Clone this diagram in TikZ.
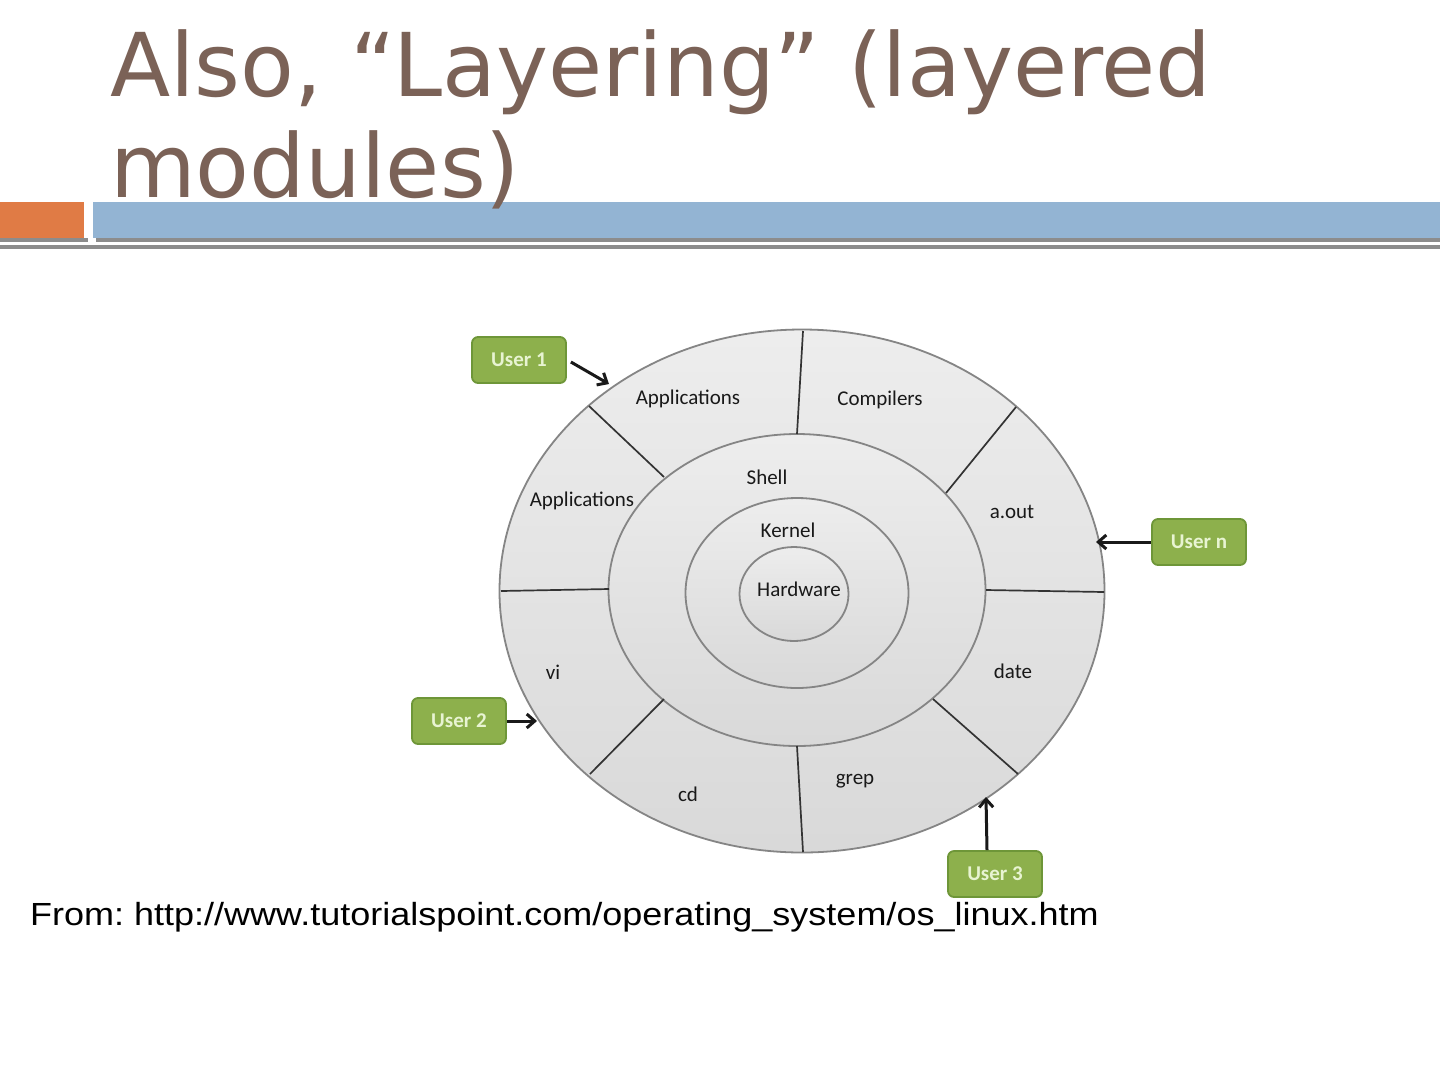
\documentclass[tikz,border=0pt]{standalone}
\usepackage{fontspec}
\setmainfont{Carlito}
\newfontfamily\titlefont{DejaVu Sans}
\newfontfamily\footfont{Liberation Sans}
\usetikzlibrary{shapes.geometric,arrows.meta}
\definecolor{titlebrown}{HTML}{7B6257}
\definecolor{barorange}{HTML}{E07B45}
\definecolor{barblue}{HTML}{93B4D3}
\definecolor{bargray}{HTML}{8C8C8C}
\definecolor{usergreen}{HTML}{8DB04C}
\definecolor{userborder}{HTML}{6E9638}
\definecolor{usertext}{HTML}{E8F4D2}
\definecolor{ringline}{HTML}{858585}
\tikzset{
  ring/.style={ellipse, draw=ringline, line width=1.8pt, top color=gray!14, bottom color=gray!30, inner sep=0pt},
  divider/.style={draw=black!80, line width=1.7pt},
  lbl/.style={font=\fontsize{21}{24}\selectfont, text=black!90, inner sep=0pt},
  userbox/.style={rounded corners=6pt, fill=usergreen, draw=userborder, line width=1.8pt, text=usertext,
    font=\bfseries\fontsize{21}{24}\selectfont, minimum width=94pt, minimum height=46pt, inner sep=0pt},
  userarrow/.style={draw=black!90, line width=3pt, -{Straight Barb[length=8pt,width=14pt,line width=3pt]}},
}
\begin{document}
\begin{tikzpicture}[x=1pt,y=-1pt]
\useasboundingbox (0,0) rectangle (1440,1080);
\fill[white] (0,0) rectangle (1440,1080);
% title bars
\fill[barorange] (0,202) rectangle (84,238);
\fill[barblue] (93,202) rectangle (1440,238);
\fill[bargray] (0,238) rectangle (88,242);
\fill[bargray] (96,238) rectangle (1440,242);
\fill[bargray] (0,244.5) rectangle (1440,248.5);
% title
\node[anchor=base west, inner sep=0pt, text=titlebrown, font=\titlefont\fontsize{88}{100}\selectfont] (title1) at (110,96) {Also, “Layering” (layered};
\node[anchor=base west, inner sep=0pt, text=titlebrown, font=\titlefont\fontsize{88}{100}\selectfont] (title2) at (110,197) {modules)};
% rings
\node[ring, minimum width=605pt, minimum height=523pt] (outer) at (802,591) {};
\node[ring, minimum width=377pt, minimum height=312pt] (shell) at (797,590) {};
\node[ring, minimum width=223pt, minimum height=190pt] (kernel) at (797,593) {};
\node[ring, minimum width=109pt, minimum height=94pt] (hw) at (794,594) {};
% dividers
\draw[divider] (803,331) -- (797,434);
\draw[divider] (1016,407) -- (946,493);
\draw[divider] (986,590) -- (1104,592);
\draw[divider] (933,699) -- (1018,774);
\draw[divider] (797,746) -- (803,852);
\draw[divider] (664,699) -- (590,774);
\draw[divider] (501,591) -- (609,589);
\draw[divider] (589,406) -- (664,477);
% labels
\node[lbl] (lapp1) at (688,399) {Applications};
\node[lbl] (lcomp) at (880,400) {Compilers};
\node[lbl] (lapp2) at (582,501) {Applications};
\node[lbl] (laout) at (1012,512) {a.out};
\node[lbl] (lvi) at (553,672) {vi};
\node[lbl] (ldate) at (1013,671) {date};
\node[lbl] (lcd) at (688,794) {cd};
\node[lbl] (lgrep) at (855,781) {grep};
\node[lbl] (lshell) at (767,477) {Shell};
\node[lbl] (lkernel) at (788,530) {Kernel};
\node[lbl] (lhw) at (799,589) {Hardware};
% users
\node[userbox] (u1) at (519,360) {User 1};
\node[userbox] (un) at (1199,542) {User n};
\node[userbox] (u2) at (459,721) {User 2};
\node[userbox] (u3) at (995,874) {User 3};
\coordinate (t1) at (609,384);
\coordinate (tn) at (1096,542);
\coordinate (t2) at (537,721);
\coordinate (t3) at (986,797);
\draw[userarrow] (u1.east) ++(4,2) -- (t1);
\draw[userarrow] (un.west) -- (tn);
\draw[userarrow] (u2.east) -- (t2);
\draw[userarrow] (u3.north) ++(-8,0) -- (t3);
% footer
\node[anchor=base west, inner sep=0pt, font=\footfont\fontsize{32}{38}\selectfont, text=black] (foot) at (30,925) {\frenchspacing\scalebox{1.125}[1]{From: http://www.tutorialspoint.com/operating\_system/os\_linux.htm}};
\end{tikzpicture}
\end{document}
